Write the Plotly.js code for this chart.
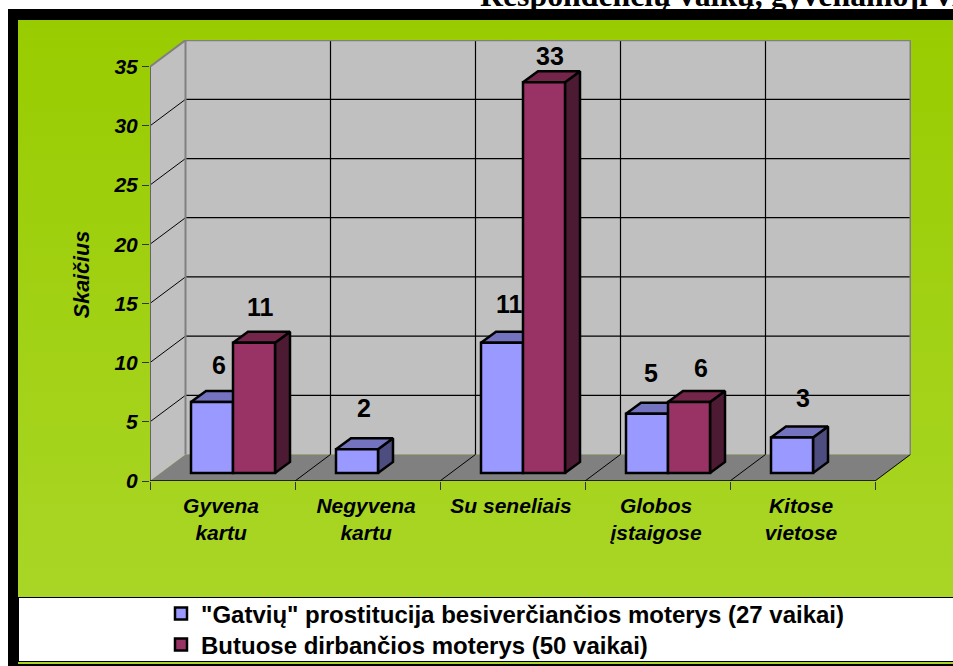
<!DOCTYPE html>
<html>
<head>
<meta charset="utf-8">
<script src="https://cdn.plot.ly/plotly-3.0.1.min.js"></script>
<style>
html,body{margin:0;padding:0;background:#fff;width:953px;height:666px;overflow:hidden}
.l{position:absolute}
#frame{left:8px;top:9px;width:945px;height:657px;background:#000}
#green{left:18px;top:20px;width:935px;height:577px;background:linear-gradient(#99cc00,#a9d626)}
#white{left:19px;top:598px;width:934px;height:63px;background:#fff}
#stripe{left:18px;top:662px;width:935px;height:2px;background:#a9d626}
#chart{left:0;top:0;width:953px;height:666px}
</style>
</head>
<body>
<div class="l" id="frame"></div>
<div class="l" id="green"></div>
<div class="l" id="white"></div>
<div class="l" id="stripe"></div>
<div class="l" id="chart"></div>
<script>
// Data
var categories = ["Gyvena<br>kartu", "Negyvena<br>kartu", "Su seneliais", "Globos<br>įstaigose", "Kitose<br>vietose"];
var seriesStreet = [6, 2, 11, 5, 3];
var seriesFlats = [11, null, 33, 6, null];
var nameStreet = '"Gatvių" prostitucija besiverčiančios moterys (27 vaikai)';
var nameFlats = 'Butuose dirbančios moterys (50 vaikai)';
var yTicks = [0, 5, 10, 15, 20, 25, 30, 35];
var titleText = "Respondenčių vaikų, gyvenamoji vieta";
var yTitle = "Skaičius";

// Geometry of the pseudo-3D box, in pixels of the page
var L = 150, R = 911, T = 40, B = 480.7, W = 953, H = 666;
var catPx = 145, unitPx = 11.83;
var xMax = (R - L) / catPx, yMax = (B - T) / unitPx;
var wallDx = 35.5 / catPx, wallDy = 26.5 / unitPx;
var barDx = 15 / catPx, barDy = 11 / unitPx;
var barBase = 8 / unitPx, barW = 42 / catPx, barStart = 41 / catPx;

var px = function (p) { return (p - L) / (R - L); };
var py = function (p) { return (B - p) / (B - T); };
var idx = categories.map(function (_, i) { return i; });

// Side and top faces of the bars, built from the values
function faces(values, col, colors) {
  var sx = [], sy = [], tx = [], ty = [];
  values.forEach(function (v, i) {
    if (v === null) return;
    var x0 = i + barStart + col * barW, x1 = x0 + barW, y0 = barBase, y1 = barBase + v;
    sx.push(x1, x1 + barDx, x1 + barDx, x1, x1, null);
    sy.push(y0, y0 + barDy, y1 + barDy, y1, y0, null);
    tx.push(x0, x0 + barDx, x1 + barDx, x1, x0, null);
    ty.push(y1, y1 + barDy, y1 + barDy, y1, y1, null);
  });
  var mk = function (x, y, c) {
    return { type: 'scatter', mode: 'lines', x: x, y: y, fill: 'toself', fillcolor: c,
      line: { color: '#000', width: 2.5 }, showlegend: false, hoverinfo: 'skip', xaxis: 'x', yaxis: 'y' };
  };
  return [mk(sx, sy, colors[0]), mk(tx, ty, colors[1])];
}
function bars(values, col, color, name, legendId) {
  return { type: 'bar', name: name, legend: legendId, xaxis: 'x2', yaxis: 'y2',
    x: idx.map(function (i) { return i + barStart + col * barW; }),
    y: values, base: barBase, width: barW, offset: 0,
    marker: { color: color, line: { color: '#000', width: 2.5 } }, hoverinfo: 'skip' };
}
var data = [].concat(
  faces(seriesStreet, 0, ['#4d4d80', '#7373bf']),
  faces(seriesFlats, 1, ['#4d1a33', '#732649']),
  [bars(seriesStreet, 0, '#9999ff', nameStreet, 'legend'), bars(seriesFlats, 1, '#993366', nameFlats, 'legend2')]
);

// Walls, floor and gridlines
var poly = function (pts, fill) {
  return { type: 'path', xref: 'x', yref: 'y', layer: 'below', fillcolor: fill, line: { width: 0 },
    path: 'M' + pts.map(function (p) { return p[0] + ',' + p[1]; }).join('L') + 'Z' };
};
var seg = function (x0, y0, x1, y1, color, width) {
  return { type: 'line', xref: 'x', yref: 'y', layer: 'below', x0: x0, y0: y0, x1: x1, y1: y1, line: { color: color, width: width } };
};
var n = categories.length, yTop = yTicks[yTicks.length - 1];
var shapes = [
  poly([[wallDx, wallDy], [n + wallDx, wallDy], [n + wallDx, yTop + wallDy], [wallDx, yTop + wallDy]], '#c0c0c0'),
  poly([[0, 0], [wallDx, wallDy], [wallDx, yTop + wallDy], [0, yTop]], '#c0c0c0'),
  poly([[0, 0], [n, 0], [n + wallDx, wallDy], [wallDx, wallDy]], '#808080')
];
yTicks.slice(1, -1).forEach(function (k) {
  shapes.push(seg(wallDx, k + wallDy, n + wallDx, k + wallDy, '#000', 1.2));
  shapes.push(seg(0, k, wallDx, k + wallDy, '#000', 1));
});
for (var i = 1; i < n; i++) shapes.push(seg(i + wallDx, wallDy, i + wallDx, yTop + wallDy, '#000', 1.2));
for (var j = 1; j <= n; j++) shapes.push(seg(j, 0, j + wallDx, wallDy, '#000', 1));
shapes.push(seg(0, yTop, wallDx, yTop + wallDy, '#808080', 2));
shapes.push(seg(wallDx, yTop + wallDy, n + wallDx, yTop + wallDy, '#808080', 2));
shapes.push(seg(wallDx, wallDy, wallDx, yTop + wallDy, '#808080', 2));
shapes.push(seg(n + wallDx, wallDy, n + wallDx, yTop + wallDy, '#808080', 2));
shapes.push(seg(0, 0, 0, yTop, '#666', 2));
shapes.push(seg(0, 0, n, 0, '#000', 1.5));

// Value labels (small hand offsets from each bar's top, as in the picture)
var lblFont = { family: 'Liberation Sans', size: 25, color: '#000', weight: 700 };
var shiftStreet = [[7, 37], [7, 41], [7, 39], [4, 41], [11, 39]];
var shiftFlats = [[6, 36], null, [6, 26], [12, 34], null];
var annotations = [];
function addLabels(values, col, shifts) {
  values.forEach(function (v, i) {
    if (v === null) return;
    annotations.push({ x: i + barStart + col * barW + barW / 2, y: barBase + v, xref: 'x', yref: 'y',
      text: String(v), showarrow: false, xanchor: 'center', yanchor: 'middle',
      xshift: shifts[i][0], yshift: shifts[i][1], font: lblFont });
  });
}
addLabels(seriesStreet, 0, shiftStreet);
addLabels(seriesFlats, 1, shiftFlats);
annotations.push({ xref: 'paper', yref: 'paper', x: px(82), y: py(275), text: yTitle, textangle: -90, showarrow: false,
  xanchor: 'center', yanchor: 'middle', font: { family: 'Liberation Sans', size: 21.5, color: '#000', weight: 700, style: 'italic' } });

var axisFont = { family: 'Liberation Sans', size: 21, color: '#000', weight: 700, style: 'italic' };
var legendFor = function (rowY) {
  return { x: 161 / W, xref: 'container', y: 1 - rowY / H, yref: 'container', xanchor: 'left', yanchor: 'middle', orientation: 'v',
    bgcolor: 'rgba(0,0,0,0)', borderwidth: 0, itemwidth: 30, itemclick: false, itemdoubleclick: false,
    font: { family: 'Liberation Sans', size: 24, color: '#000', weight: 700 } };
};
var layout = {
  width: W, height: H, autosize: false,
  paper_bgcolor: 'rgba(0,0,0,0)', plot_bgcolor: 'rgba(0,0,0,0)',
  margin: { l: L, r: W - R, t: T, b: H - B, pad: 0, autoexpand: false },
  title: { text: titleText, font: { family: 'Liberation Serif', size: 31.8, color: '#000', weight: 700 },
    x: 480 / W, xref: 'container', xanchor: 'left', y: 1 - 5.5 / H, yref: 'container', yanchor: 'bottom', pad: { t: 0, b: 0, l: 0, r: 0 } },
  barmode: 'overlay',
  xaxis: { range: [0, xMax], tickmode: 'array', tickvals: idx.map(function (i) { return i + 0.49; }), ticktext: categories,
    ticks: '', tickangle: 0, tickfont: axisFont, showgrid: false, zeroline: false, showline: false, ticklabelstandoff: 10, fixedrange: true },
  yaxis: { range: [0, yMax], tickmode: 'array', tickvals: yTicks, ticktext: yTicks.map(String),
    ticks: 'outside', ticklen: 7, tickwidth: 1, tickcolor: '#333', tickfont: axisFont, showgrid: false, zeroline: false, showline: false, fixedrange: true },
  xaxis2: { range: [0, xMax], overlaying: 'x', anchor: 'y2', tickmode: 'array', tickvals: idx.concat([n]), ticktext: idx.concat([n]).map(function () { return ''; }),
    ticks: 'outside', ticklen: 8, tickwidth: 1, tickcolor: '#333', showgrid: false, zeroline: false, showline: false, fixedrange: true },
  yaxis2: { range: [0, yMax], overlaying: 'y', anchor: 'x2', showticklabels: false, ticks: '', showgrid: false, zeroline: false, showline: false, fixedrange: true },
  shapes: shapes,
  annotations: annotations,
  showlegend: true,
  legend: legendFor(614),
  legend2: legendFor(645)
};
Plotly.newPlot('chart', data, layout, { displayModeBar: false, staticPlot: true });
</script>
</body>
</html>
